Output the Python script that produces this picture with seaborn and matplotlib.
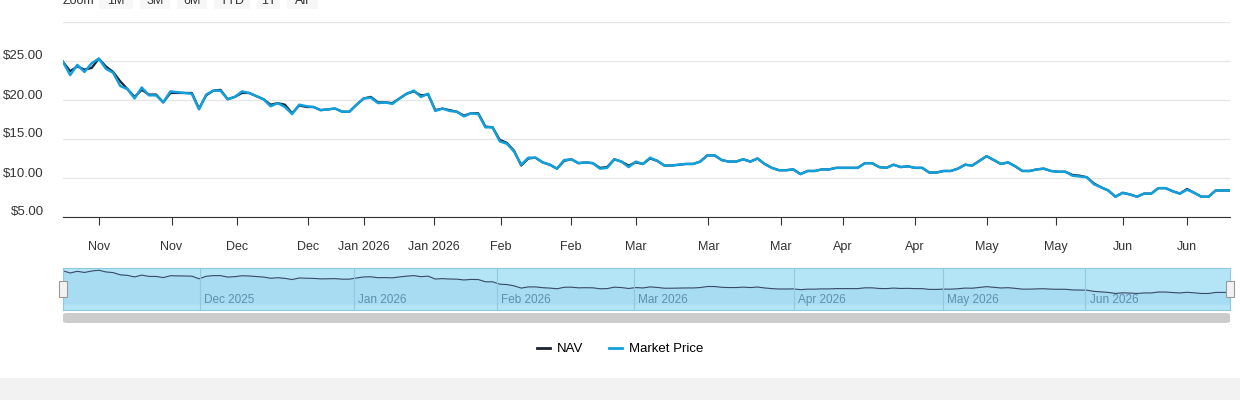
import numpy as np
import pandas as pd
import matplotlib
matplotlib.use('Agg')
import matplotlib.pyplot as plt
from matplotlib.patches import FancyBboxPatch, Rectangle
from matplotlib.lines import Line2D
from matplotlib.transforms import ScaledTranslation
import seaborn as sns

# market price (ordinal trading points)
market = [24.9, 23.2, 24.5, 23.6, 24.7, 25.3, 24.0, 23.5, 21.8, 21.4, 20.2, 21.6, 20.6, 20.6, 19.7,
          21.1, 21.0, 20.9, 20.8, 18.8, 20.7, 21.2, 21.2, 20.1, 20.4, 21.1, 20.9, 20.5, 20.1, 19.2,
          19.6, 19.1, 18.2, 19.4, 19.2, 19.1, 18.7, 18.8, 18.9, 18.5, 18.5, 19.4, 20.2, 20.3, 19.6,
          19.7, 19.5, 20.2, 20.8, 21.2, 20.4, 20.8, 18.6, 18.9, 18.6, 18.5, 17.9, 18.3, 18.2, 16.5,
          16.5, 14.7, 14.4, 13.4, 11.7, 12.6, 12.6, 12.0, 11.7, 11.2, 12.3, 12.4, 11.9, 12.0, 11.9,
          11.2, 11.3, 12.4, 12.1, 11.4, 12.1, 11.8, 12.6, 12.2, 11.6, 11.6, 11.7, 11.8, 11.8, 12.1,
          12.9, 12.9, 12.3, 12.1, 12.1, 12.4, 12.1, 12.5, 11.8, 11.3, 11.0, 11.0, 11.1, 10.5, 10.9,
          10.9, 11.1, 11.1, 11.3, 11.3, 11.3, 11.3, 11.9, 11.9, 11.4, 11.3, 11.7, 11.4, 11.5, 11.3,
          11.3, 10.7, 10.7, 10.9, 10.9, 11.2, 11.7, 11.6, 12.2, 12.8, 12.3, 11.8, 12.0, 11.5, 10.9,
          10.9, 11.1, 11.2, 10.9, 10.8, 10.8, 10.3, 10.2, 10.1, 9.2, 8.8, 8.4, 7.6, 8.1, 7.9,
          7.6, 8.0, 8.0, 8.7, 8.7, 8.3, 8.0, 8.5, 8.1, 7.6, 7.6, 8.4, 8.4, 8.4]
nav = [24.9, 23.7, 24.3, 23.9, 24.1, 25.3, 24.3, 23.6, 22.4, 21.4, 20.4, 21.3, 20.7, 20.7, 19.7,
       20.9, 20.9, 20.9, 20.9, 18.9, 20.6, 21.2, 21.3, 20.1, 20.4, 20.9, 20.9, 20.5, 20.1, 19.4,
       19.6, 19.4, 18.3, 19.3, 19.1, 19.1, 18.7, 18.8, 18.9, 18.5, 18.5, 19.4, 20.2, 20.4, 19.7,
       19.7, 19.6, 20.2, 20.8, 21.1, 20.6, 20.7, 18.7, 18.9, 18.7, 18.5, 18.0, 18.3, 18.3, 16.6,
       16.5, 14.9, 14.5, 13.5, 11.6, 12.5, 12.6, 12.0, 11.7, 11.2, 12.2, 12.4, 11.9, 12.0, 11.9,
       11.3, 11.4, 12.4, 12.1, 11.6, 12.0, 11.8, 12.5, 12.2, 11.6, 11.6, 11.7, 11.8, 11.8, 12.1,
       12.9, 12.9, 12.3, 12.1, 12.1, 12.4, 12.1, 12.5, 11.8, 11.3, 11.0, 11.0, 11.1, 10.5, 10.9,
       10.9, 11.1, 11.1, 11.3, 11.3, 11.3, 11.3, 11.9, 11.9, 11.4, 11.3, 11.7, 11.4, 11.5, 11.3,
       11.3, 10.7, 10.7, 10.9, 10.9, 11.2, 11.7, 11.6, 12.2, 12.8, 12.3, 11.8, 12.0, 11.5, 10.9,
       10.9, 11.1, 11.2, 10.9, 10.8, 10.8, 10.4, 10.3, 10.1, 9.3, 8.8, 8.4, 7.6, 8.1, 7.9,
       7.6, 8.0, 8.0, 8.7, 8.7, 8.3, 8.0, 8.6, 8.1, 7.6, 7.6, 8.4, 8.4, 8.4]

# x tick labels and their spot along the axis (fraction of the plotted span)
tick_labels = ['Nov', 'Nov', 'Dec', 'Dec', 'Jan 2026', 'Jan 2026', 'Feb', 'Feb', 'Mar', 'Mar', 'Mar',
               'Apr', 'Apr', 'May', 'May', 'Jun', 'Jun']
tick_frac = [0.031, 0.093, 0.149, 0.210, 0.258, 0.318, 0.375, 0.435, 0.491, 0.553, 0.615,
             0.668, 0.730, 0.792, 0.851, 0.908, 0.963]
yticks = [5, 10, 15, 20, 25]
nav_labels = ['Dec 2025', 'Jan 2026', 'Feb 2026', 'Mar 2026', 'Apr 2026', 'May 2026', 'Jun 2026']
nav_frac = [0.117, 0.249, 0.372, 0.489, 0.626, 0.754, 0.876]
zoom_buttons = ['1M', '3M', '6M', 'YTD', '1Y', 'All']

n = len(market)
df = pd.DataFrame({'x': np.arange(n), 'NAV': nav, 'Market Price': market})

W, H = 1240, 400
fig = plt.figure(figsize=(12.4, 4.0), dpi=100)
plt.rcParams['font.family'] = ['Liberation Sans', 'DejaVu Sans']

def box(x0, y0, x1, y1):
    return [x0 / W, 1 - y1 / H, (x1 - x0) / W, (y1 - y0) / H]

navy = '#1c2331'
blue = '#11a0dc'

ax = fig.add_axes(box(63, 22, 1230, 217))
sns.lineplot(data=df, x='x', y='NAV', ax=ax, color=navy, lw=1.6)
sns.lineplot(data=df, x='x', y='Market Price', ax=ax, color=blue, lw=1.8)
ax.set_xlim(0, n - 1)
ax.set_ylim(5, 30)
ax.set_yticks(yticks + [30])
ax.set_yticklabels([f'${v:.2f}' for v in yticks] + [''])
ax.grid(axis='y', color='#e6e6e6', lw=1)
ax.set_axisbelow(True)
for s in ['top', 'right', 'left']:
    ax.spines[s].set_visible(False)
ax.spines['bottom'].set_color('#333333')
ax.set_xticks([f * (n - 1) for f in tick_frac])
ax.set_xticklabels(tick_labels)
ax.tick_params(axis='x', colors='#333333', labelcolor='#333333', labelsize=9, length=6, pad=11)
ax.tick_params(axis='y', length=0, labelsize=9.5, labelcolor='#333333', pad=14)
for lab in ax.get_yticklabels():
    lab.set_transform(lab.get_transform() + ScaledTranslation(0, 0.06, fig.dpi_scale_trans))
ax.set_xlabel('')
ax.set_ylabel('')

# navigator
nv = fig.add_axes(box(63, 268, 1230, 310))
nv.fill_between(df['x'], market, 0, color='#a6dcf2', alpha=0.9)
sns.lineplot(data=df, x='x', y='Market Price', ax=nv, color='#3a4a66', lw=0.8)
nv.set_facecolor('#b3e5f7')
nv.set_xlim(0, n - 1)
nv.set_ylim(-5, 27)
nv.set_xticks([])
nv.set_yticks([])
nv.set_xlabel('')
nv.set_ylabel('')
for s in nv.spines.values():
    s.set_color('#8fc9e0')
for f, lab in zip(nav_frac, nav_labels):
    nv.axvline(f * (n - 1), color='#8fc9e0', lw=0.8)
    nv.text(f * (n - 1) + 0.6, 2.5, lab, color='#5f8fae', fontsize=8.5, va='center')

# handles and scrollbar
for hx in (63, 1230):
    fig.patches.append(Rectangle(((hx - 4) / W, 1 - 297 / H), 8 / W, 16 / H, transform=fig.transFigure,
                                 facecolor='#f2f2f2', edgecolor='#999999', lw=0.8))
fig.patches.append(FancyBboxPatch((63 / W, 1 - 323 / H), 1167 / W, 10 / H, transform=fig.transFigure,
                                  boxstyle='round,pad=0,rounding_size=0.004', facecolor='#cccccc',
                                  edgecolor='none'))

# range selector (cut off at top)
fig.text(63 / W, 1 - 1 / H, 'Zoom', fontsize=9, color='#333333', va='center')
for lab, x0, x1 in zip(zoom_buttons, [99, 140, 177, 214, 257, 287], [133, 170, 207, 250, 280, 318]):
    fig.patches.append(Rectangle((x0 / W, 1 - 9 / H), (x1 - x0) / W, 12 / H, transform=fig.transFigure,
                                 facecolor='#f7f7f7', edgecolor='none'))
    fig.text((x0 + x1) / 2 / W, 1 - 1 / H, lab, fontsize=9, color='#333333', ha='center', va='center')

# legend
handles = [Line2D([], [], color=navy, lw=2), Line2D([], [], color=blue, lw=2)]
fig.legend(handles, ['NAV', 'Market Price'], loc='center', bbox_to_anchor=(620 / W, 1 - 349 / H),
           ncol=2, frameon=False, fontsize=9.5, handlelength=1.0, columnspacing=2.0, handletextpad=0.5)

fig.patches.append(Rectangle((0, 0), 1, 22 / H, transform=fig.transFigure, facecolor='#f2f2f2',
                             edgecolor='none'))

fig.savefig('out.png', dpi=100)
